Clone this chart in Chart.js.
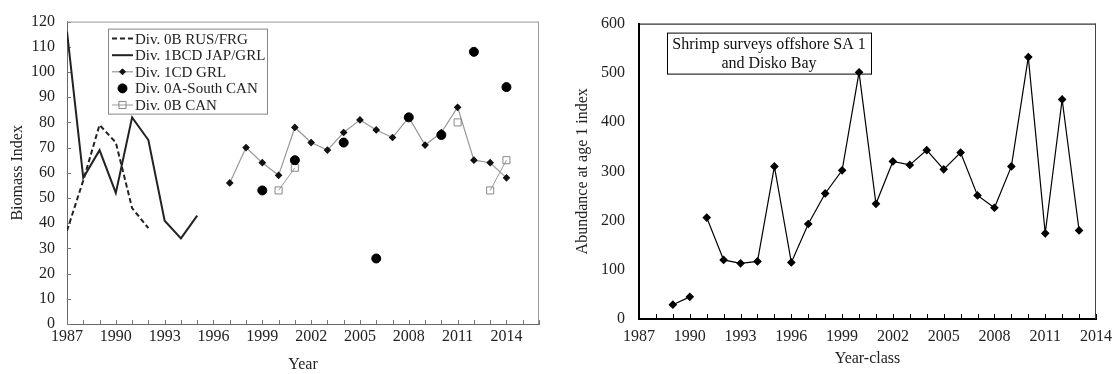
<!DOCTYPE html>
<html>
<head>
<meta charset="utf-8">
<script src="https://cdn.jsdelivr.net/npm/chart.js@4.4.0/dist/chart.umd.min.js"></script>
<style>
  body { margin: 0; background: #fff; }
  #wrap { position: relative; width: 1120px; height: 374px; }
  canvas { position: absolute; top: 0; }
  #biomass { left: 0; }
  #recruits { left: 555px; }
</style>
</head>
<body>
<div id="wrap">
  <canvas id="biomass" width="555" height="374"></canvas>
  <canvas id="recruits" width="565" height="374"></canvas>
</div>
<script>
// left panel: biomass index by division
const rusYears = [1987, 1988, 1989, 1990, 1991, 1992];
const rusFrg   = [37, 57, 79, 72, 46, 38];

const japYears = [1987, 1988, 1989, 1990, 1991, 1992, 1993, 1994, 1995];
const japGrl   = [116, 58, 69, 52, 82, 73, 41, 34, 43];

const grlYears = [1997, 1998, 1999, 2000, 2001, 2002, 2003, 2004, 2005,
                  2006, 2007, 2008, 2009, 2010, 2011, 2012, 2013, 2014];
const grl1cd   = [56, 70, 64, 59, 78, 72, 69, 76, 81, 77, 74, 82, 71, 76, 86, 65, 64, 58];

const southYears = [1999, 2001, 2004, 2006, 2008, 2010, 2012, 2014];
const southCan   = [53, 65, 72, 26, 82, 75, 108, 94];

const canYears = [2000, 2001, 2002, 2003, 2004, 2005, 2006, 2007,
                  2008, 2009, 2010, 2011, 2012, 2013, 2014];
const can0b    = [53, 62, null, null, null, null, null, null, null, null, null, 80, null, 53, 65];

// right panel: age 1 abundance by year-class
const classYears = [1989, 1990, 1991, 1992, 1993, 1994, 1995, 1996, 1997, 1998, 1999, 2000, 2001,
                    2002, 2003, 2004, 2005, 2006, 2007, 2008, 2009, 2010, 2011, 2012, 2013];
const abundance  = [29, 45, 206, 120, 113, 117, 310, 115, 193, 255, 302, 501, 234,
                    320, 313, 343, 304, 338, 251, 226, 310, 532, 174, 446, 180];

// year tick labels (both panels)
const yearLabels = [1987, 1990, 1993, 1996, 1999, 2002, 2005, 2008, 2011, 2014];

const serif = '"Liberation Serif", "DejaVu Serif", serif';
Chart.defaults.font.family = serif;
Chart.defaults.color = '#222';

const pts = (xs, ys) => xs.map((x, i) => ({ x: x, y: ys[i] }));
const yearTick = v => (yearLabels.includes(v) ? String(v) : '');

function drawMarker(ctx, ds, x, y) {
  const r = ds.pointRadius;
  ctx.save();
  ctx.fillStyle = ds.pointBackgroundColor;
  ctx.strokeStyle = ds.pointBorderColor;
  ctx.lineWidth = ds.pointBorderWidth || 1;
  ctx.beginPath();
  if (ds.pointStyle === 'circle') {
    ctx.arc(x, y, r, 0, Math.PI * 2);
  } else if (ds.pointStyle === 'rectRot') {
    ctx.moveTo(x, y - r); ctx.lineTo(x + r, y); ctx.lineTo(x, y + r); ctx.lineTo(x - r, y);
    ctx.closePath();
  } else {
    const s = r / Math.SQRT2;
    ctx.rect(x - s, y - s, 2 * s, 2 * s);
  }
  ctx.fill();
  ctx.stroke();
  ctx.restore();
}

// inward year ticks and the top/right sides of the frame
function axisDecor(cfg) {
  return {
    id: 'axisDecor',
    beforeDatasetsDraw(chart) {
      const { ctx, chartArea: a, scales: { x, y } } = chart;
      ctx.save();
      ctx.lineWidth = 1;
      ctx.strokeStyle = cfg.tickColor;
      ctx.beginPath();
      x.ticks.forEach(t => {
        const px = Math.round(x.getPixelForValue(t.value)) + 0.5;
        ctx.moveTo(px, a.bottom);
        ctx.lineTo(px, a.bottom - cfg.tickLen);
      });
      if (cfg.yTicks) {
        y.ticks.forEach(t => {
          const py = Math.round(y.getPixelForValue(t.value)) + 0.5;
          ctx.moveTo(a.left, py);
          ctx.lineTo(a.left + cfg.tickLen, py);
        });
      }
      ctx.stroke();
      ctx.strokeStyle = cfg.topColor;
      ctx.beginPath();
      ctx.moveTo(a.left, a.top + 0.5);
      ctx.lineTo(a.right, a.top + 0.5);
      ctx.stroke();
      ctx.strokeStyle = cfg.rightColor;
      ctx.beginPath();
      ctx.moveTo(a.right - 0.5, a.top);
      ctx.lineTo(a.right - 0.5, a.bottom);
      ctx.stroke();
      ctx.restore();
    }
  };
}

const biomassLegend = {
  id: 'biomassLegend',
  afterDatasetsDraw(chart) {
    const { ctx, chartArea: a } = chart;
    const bx = a.left + 41, by = a.top + 7, bw = 159, bh = 85, rowH = 16.6;
    ctx.save();
    ctx.fillStyle = '#fff';
    ctx.fillRect(bx, by, bw, bh);
    ctx.strokeStyle = '#888';
    ctx.lineWidth = 1;
    ctx.strokeRect(bx + 0.5, by + 0.5, bw, bh);
    ctx.font = '15px ' + serif;
    ctx.textBaseline = 'middle';
    chart.data.datasets.forEach((ds, i) => {
      const cy = by + 10 + i * rowH;
      const x0 = bx + 4, x1 = bx + 25;
      if (ds.showLine !== false) {
        ctx.save();
        ctx.strokeStyle = ds.borderColor;
        ctx.lineWidth = ds.borderWidth;
        ctx.setLineDash(ds.borderDash || []);
        ctx.beginPath();
        ctx.moveTo(x0, cy);
        ctx.lineTo(x1, cy);
        ctx.stroke();
        ctx.restore();
      }
      if (ds.pointRadius) drawMarker(ctx, ds, (x0 + x1) / 2, cy);
      ctx.fillStyle = '#222';
      ctx.fillText(ds.label, x1 + 2, cy + 1);
    });
    ctx.restore();
  }
};

// text box drawn under the series, the 2000 peak sits on its lower edge
const recruitTitle = {
  id: 'recruitTitle',
  beforeDatasetsDraw(chart) {
    const { ctx, chartArea: a } = chart;
    const bx = a.left + 28, by = a.top + 9, bw = 204, bh = 41;
    ctx.save();
    ctx.fillStyle = '#fff';
    ctx.fillRect(bx, by, bw, bh);
    ctx.strokeStyle = '#000';
    ctx.lineWidth = 1;
    ctx.strokeRect(bx + 0.5, by + 0.5, bw, bh);
    ctx.font = '16px ' + serif;
    ctx.fillStyle = '#111';
    ctx.textAlign = 'center';
    ctx.textBaseline = 'middle';
    ctx.fillText('Shrimp surveys offshore SA 1', bx + bw / 2, by + 12);
    ctx.fillText('and Disko Bay', bx + bw / 2, by + 31);
    ctx.restore();
  }
};

new Chart(document.getElementById('biomass'), {
  type: 'line',
  data: {
    datasets: [
      { label: 'Div. 0B RUS/FRG', data: pts(rusYears, rusFrg), borderColor: '#222', borderWidth: 2,
        borderDash: [5, 3], pointRadius: 0, order: 3 },
      { label: 'Div. 1BCD JAP/GRL', data: pts(japYears, japGrl), borderColor: '#222', borderWidth: 2,
        pointRadius: 0, order: 3 },
      { label: 'Div. 1CD GRL', data: pts(grlYears, grl1cd), borderColor: '#999', borderWidth: 1.2,
        pointStyle: 'rectRot', pointRadius: 3, pointBackgroundColor: '#111', pointBorderColor: '#111', order: 2 },
      { label: 'Div. 0A-South CAN', data: pts(southYears, southCan), showLine: false,
        pointStyle: 'circle', pointRadius: 4.5, pointBackgroundColor: '#000', pointBorderColor: '#000', order: 0 },
      { label: 'Div. 0B CAN', data: pts(canYears, can0b), borderColor: '#999', borderWidth: 1,
        pointStyle: 'rect', pointRadius: 5, pointBackgroundColor: 'rgba(255,255,255,0)',
        pointBorderColor: '#888', pointBorderWidth: 1, order: 1 }
    ]
  },
  options: {
    responsive: false,
    animation: false,
    devicePixelRatio: 1,
    layout: { padding: { top: 15, right: 16, left: 0, bottom: 0 } },
    plugins: { legend: { display: false }, tooltip: { enabled: false } },
    scales: {
      x: {
        type: 'linear', min: 1987, max: 2016,
        afterFit: s => { s.height = 50; },
        ticks: { stepSize: 1, autoSkip: false, maxRotation: 0, padding: 3, font: { size: 16 }, callback: yearTick },
        grid: { display: false, drawTicks: false },
        border: { color: '#666' },
        title: { display: true, text: 'Year', font: { size: 16 }, padding: { top: 0, bottom: 0 } }
      },
      y: {
        min: 0, max: 120,
        afterFit: s => { s.width = 67; },
        ticks: { stepSize: 10, padding: 12, font: { size: 16 } },
        grid: { display: false, drawTicks: false },
        border: { color: '#666' },
        title: { display: true, text: 'Biomass Index', font: { size: 16 }, padding: { top: 8, bottom: 0 } }
      }
    }
  },
  plugins: [axisDecor({ tickColor: '#777', tickLen: 4, yTicks: true, topColor: '#999', rightColor: '#999' }), biomassLegend]
});

new Chart(document.getElementById('recruits'), {
  type: 'line',
  data: {
    datasets: [
      { label: 'Shrimp surveys offshore SA 1 and Disko Bay', data: pts(classYears, abundance),
        borderColor: '#000', borderWidth: 1.2, pointStyle: 'rectRot', pointRadius: 3.5,
        pointBackgroundColor: '#000', pointBorderColor: '#000',
        // no line between the 1990 and 1991 year-classes
        segment: { borderColor: c => (c.p0.parsed.x === 1990 ? 'rgba(0,0,0,0)' : '#000') } }
    ]
  },
  options: {
    responsive: false,
    animation: false,
    devicePixelRatio: 1,
    layout: { padding: { top: 12, right: 20, left: 0, bottom: 0 } },
    plugins: { legend: { display: false }, tooltip: { enabled: false } },
    scales: {
      x: {
        type: 'linear', min: 1987, max: 2014,
        afterFit: s => { s.height = 55; },
        ticks: { stepSize: 1, autoSkip: false, maxRotation: 0, padding: 8, font: { size: 16 }, callback: yearTick },
        grid: { display: false, drawTicks: false },
        border: { color: '#000', width: 2 },
        title: { display: true, text: 'Year-class', font: { size: 16 }, padding: { top: 0, bottom: 6 } }
      },
      y: {
        min: 0, max: 600,
        afterFit: s => { s.width = 84; },
        ticks: { stepSize: 100, padding: 14, font: { size: 16 } },
        grid: { display: false, drawTicks: false },
        border: { color: '#000', width: 2 },
        title: { display: true, text: 'Abundance at age 1 index', font: { size: 16 }, padding: { top: 18, bottom: 0 } }
      }
    }
  },
  plugins: [axisDecor({ tickColor: '#000', tickLen: 5, yTicks: false, topColor: '#000', rightColor: '#444' }), recruitTitle]
});
</script>
</body>
</html>
